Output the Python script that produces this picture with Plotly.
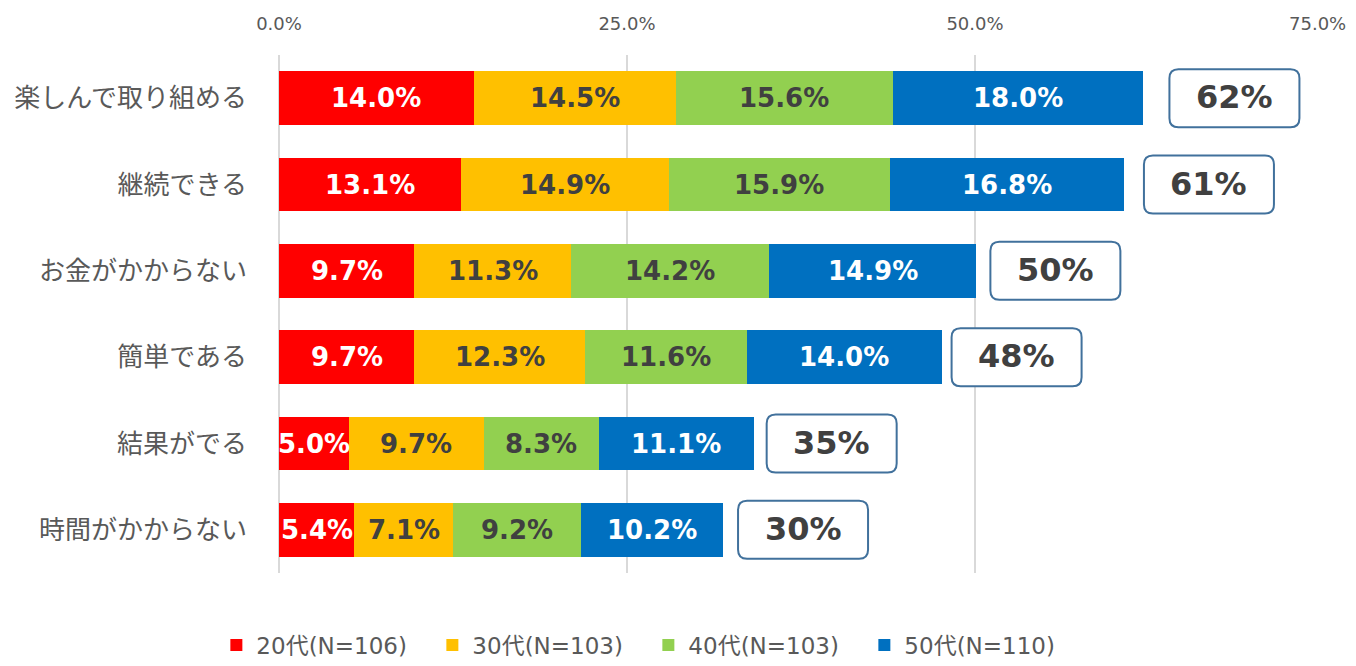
import plotly.graph_objects as go

categories = ["楽しんで取り組める", "継続できる", "お金がかからない", "簡単である", "結果がでる", "時間がかからない"]
series_names = ["20代(N=106)", "30代(N=103)", "40代(N=103)", "50代(N=110)"]
s20 = [14.0, 13.1, 9.7, 9.7, 5.0, 5.4]
s30 = [14.5, 14.9, 11.3, 12.3, 9.7, 7.1]
s40 = [15.6, 15.9, 14.2, 11.6, 8.3, 9.2]
s50 = [18.0, 16.8, 14.9, 14.0, 11.1, 10.2]
totals = [62, 61, 50, 48, 35, 30]
x_ticks = [0, 25, 50, 75]

series = [s20, s30, s40, s50]
colors = ["#FF0000", "#FFC000", "#92D050", "#0070C0"]
label_colors = ["#FFFFFF", "#404040", "#404040", "#FFFFFF"]
box_gap_px = [26, 20, 14, 10, 13, 15]
box_w, box_h, box_r = 130, 58, 9
tick_font = dict(family="DejaVu Sans", size=18, color="#595959")

fig = go.Figure()
for name, vals, col in zip(series_names, series, colors):
    fig.add_trace(go.Bar(
        y=categories, x=vals, name=name, orientation="h",
        marker=dict(color=col, line=dict(width=0)),
        hoverinfo="skip",
    ))

annotations = []
shapes = []
n = len(categories)
for i in range(n):
    cum = 0.0
    for vals, lc in zip(series, label_colors):
        v = vals[i]
        annotations.append(dict(
            x=cum + v / 2, y=i, xref="x", yref="y", text=f"{v:.1f}%",
            showarrow=False,
            font=dict(family="DejaVu Sans", size=26, color=lc, weight="bold"),
        ))
        cum += v
    g = box_gap_px[i]
    w, h, r = box_w, box_h / 2, box_r
    path = (f"M {g+r},{-h} L {g+w-r},{-h} Q {g+w},{-h} {g+w},{-h+r} "
            f"L {g+w},{h-r} Q {g+w},{h} {g+w-r},{h} L {g+r},{h} "
            f"Q {g},{h} {g},{h-r} L {g},{-h+r} Q {g},{-h} {g+r},{-h} Z")
    shapes.append(dict(
        type="path", xref="x", yref="y", xsizemode="pixel", ysizemode="pixel",
        xanchor=cum, yanchor=i, path=path,
        line=dict(color="#41719C", width=2), fillcolor="#FFFFFF", layer="above",
    ))
    annotations.append(dict(
        x=cum, y=i, xref="x", yref="y", xshift=g + w / 2, yshift=1,
        text=f"{totals[i]}%", showarrow=False,
        font=dict(family="DejaVu Sans", size=32, color="#404040", weight="bold"),
    ))

# last tick label drawn as annotation, nudged to stay inside the page
annotations.append(dict(
    x=x_ticks[-1], y=1, xref="x", yref="paper", yanchor="middle",
    yshift=32, xshift=-6, text=f"{x_ticks[-1]:.1f}%", showarrow=False,
    font=tick_font,
))

fig.update_layout(
    barmode="stack",
    bargap=0.375,
    width=1340, height=650,
    margin=dict(l=271, r=25, t=47, b=85, autoexpand=False),
    paper_bgcolor="#FFFFFF", plot_bgcolor="#FFFFFF",
    xaxis=dict(
        side="top", range=[0, 75], tickvals=x_ticks,
        ticktext=[f"{t:.1f}%" for t in x_ticks[:-1]] + [""],
        showgrid=True, gridcolor="#D9D9D9", gridwidth=2,
        zeroline=True, zerolinecolor="#D9D9D9", zerolinewidth=2,
        showline=False, ticks="", ticklabelstandoff=20, automargin=False,
        tickfont=tick_font,
        fixedrange=True,
    ),
    yaxis=dict(
        autorange="reversed", showgrid=False, zeroline=False, showline=False,
        ticks="", ticklabelstandoff=31, automargin=False,
        tickfont=dict(family="Noto Sans CJK JP", size=26, color="#595959"),
        fixedrange=True,
    ),
    legend=dict(
        orientation="h", x=-0.060, xanchor="left", y=-0.139, yanchor="middle",
        font=dict(family="DejaVu Sans, Noto Sans CJK JP", size=23, color="#595959"),
        traceorder="normal", entrywidth=171,
    ),
    annotations=annotations,
    shapes=shapes,
    showlegend=True,
)

fig.write_html("out.html")
